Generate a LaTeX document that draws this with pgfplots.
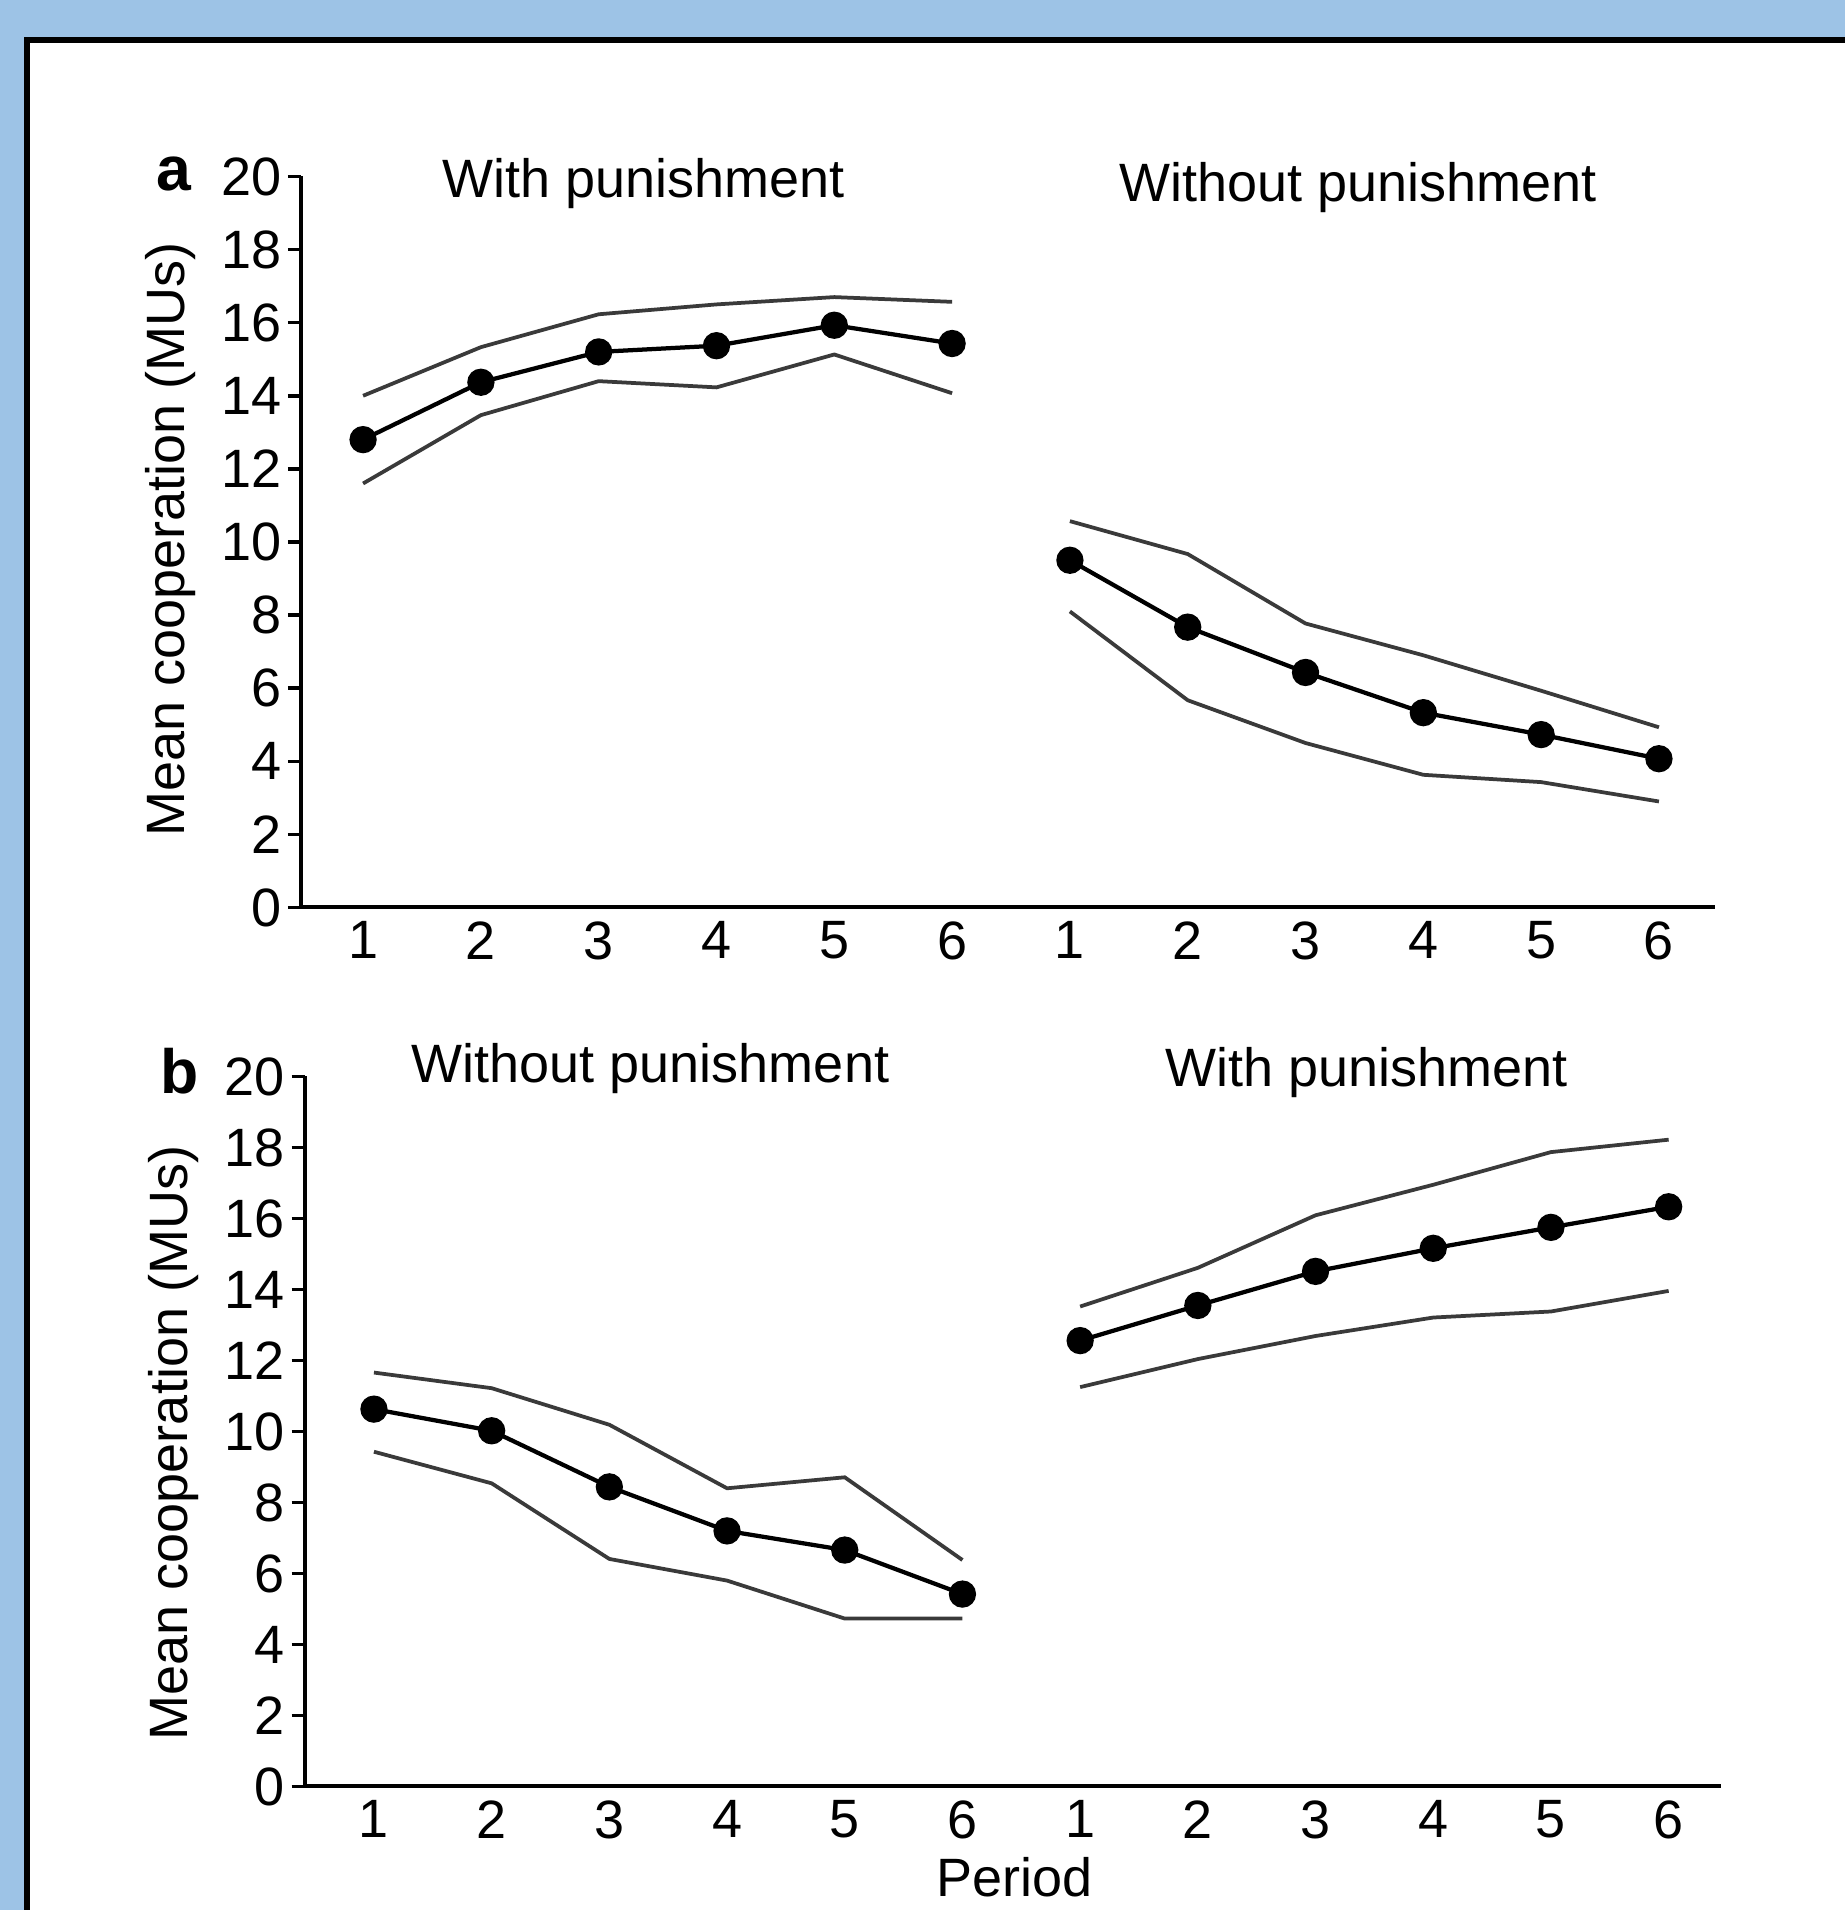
\documentclass[border=0pt]{standalone}
\usepackage{pgfplots}
\pgfplotsset{compat=1.18}
\usepackage{fontspec}
\setmainfont{Liberation Sans}
\definecolor{bgblue}{HTML}{9DC3E6}
\definecolor{bandgray}{HTML}{3A3A3A}
\begin{document}
\begin{tikzpicture}
\useasboundingbox (0pt,0pt) rectangle (369pt,382pt);
\fill[bgblue] (0pt,0pt) rectangle (369pt,382pt);
\fill[white] (4.8pt,0pt) rectangle (369pt,374.6pt);
\draw[line width=1.2pt] (5.4pt,0pt) -- (5.4pt,374pt) -- (369pt,374pt);
\pgfplotsset{
  myax/.style={
    scale only axis,
    ymin=0, ymax=20,
    ytick={0,2,...,20},
    xtick={1,...,12},
    xticklabels={1,2,3,4,5,6,1,2,3,4,5,6},
    axis x line*=bottom,
    axis y line*=left,
    axis line style={line width=0.8pt, black},
    tick align=outside,
    major tick length=2.6pt,
    xtick style={draw=none},
    ytick style={line width=0.7pt, black},
    /pgf/number format/assume math mode=true,
    tick label style={font=\fontsize{10.8}{12}\selectfont},
    xticklabel style={yshift=3.3pt},
    yticklabel style={xshift=2.2pt},
    clip=false,
  },
  band/.style={bandgray, line width=0.75pt, no marks},
  meanl/.style={black, line width=0.85pt, mark=*, mark size=2.3pt, mark options={fill=black}},
}
% Panel a
\begin{axis}[myax, at={(60.2pt,200.5pt)}, anchor=south west, width=282.8pt, height=146.2pt, xmin=0.473, xmax=12.476]
\addplot[band] coordinates {(1,14.0) (2,15.33) (3,16.23) (4,16.5) (5,16.7) (6,16.57)};
\addplot[band] coordinates {(1,11.6) (2,13.47) (3,14.4) (4,14.23) (5,15.13) (6,14.07)};
\addplot[meanl] coordinates {(1,12.8) (2,14.37) (3,15.2) (4,15.37) (5,15.93) (6,15.43)};
\addplot[band] coordinates {(7,10.57) (8,9.67) (9,7.77) (10,6.9) (11,5.93) (12,4.93)};
\addplot[band] coordinates {(7,8.1) (8,5.67) (9,4.5) (10,3.63) (11,3.43) (12,2.9)};
\addplot[meanl] coordinates {(7,9.5) (8,7.67) (9,6.43) (10,5.33) (11,4.73) (12,4.07)};
\end{axis}
% Panel b
\begin{axis}[myax, at={(60.9pt,24.7pt)}, anchor=south west, width=283.3pt, height=142.0pt, xmin=0.41, xmax=12.445]
\addplot[band] coordinates {(1,11.66) (2,11.22) (3,10.19) (4,8.4) (5,8.71) (6,6.38)};
\addplot[band] coordinates {(1,9.43) (2,8.54) (3,6.41) (4,5.8) (5,4.73) (6,4.73)};
\addplot[meanl] coordinates {(1,10.63) (2,10.02) (3,8.44) (4,7.2) (5,6.66) (6,5.42)};
\addplot[band] coordinates {(7,13.52) (8,14.61) (9,16.09) (10,16.95) (11,17.87) (12,18.22)};
\addplot[band] coordinates {(7,11.25) (8,12.04) (9,12.69) (10,13.21) (11,13.38) (12,13.96)};
\addplot[meanl] coordinates {(7,12.56) (8,13.55) (9,14.51) (10,15.16) (11,15.75) (12,16.33)};
\end{axis}
\begin{scope}[every node/.style={font=\fontsize{10.8}{12}\selectfont, inner sep=0pt}]
\node at (128.8pt,345.3pt) {With punishment};
\node at (271.6pt,344.5pt) {Without punishment};
\node at (130.1pt,168.2pt) {Without punishment};
\node at (273.3pt,167.5pt) {With punishment};
\node[rotate=90] at (34.1pt,274.1pt) {Mean cooperation (MUs)};
\node[rotate=90] at (34.8pt,93.4pt) {Mean cooperation (MUs)};
\node at (202.9pt,6.6pt) {Period};
\end{scope}
\node[font=\fontsize{12.5}{14}\selectfont\bfseries, inner sep=0pt] at (34.8pt,347.2pt) {a};
\node[font=\fontsize{12.5}{14}\selectfont\bfseries, inner sep=0pt] at (36.0pt,167.7pt) {b};
\end{tikzpicture}
\end{document}
